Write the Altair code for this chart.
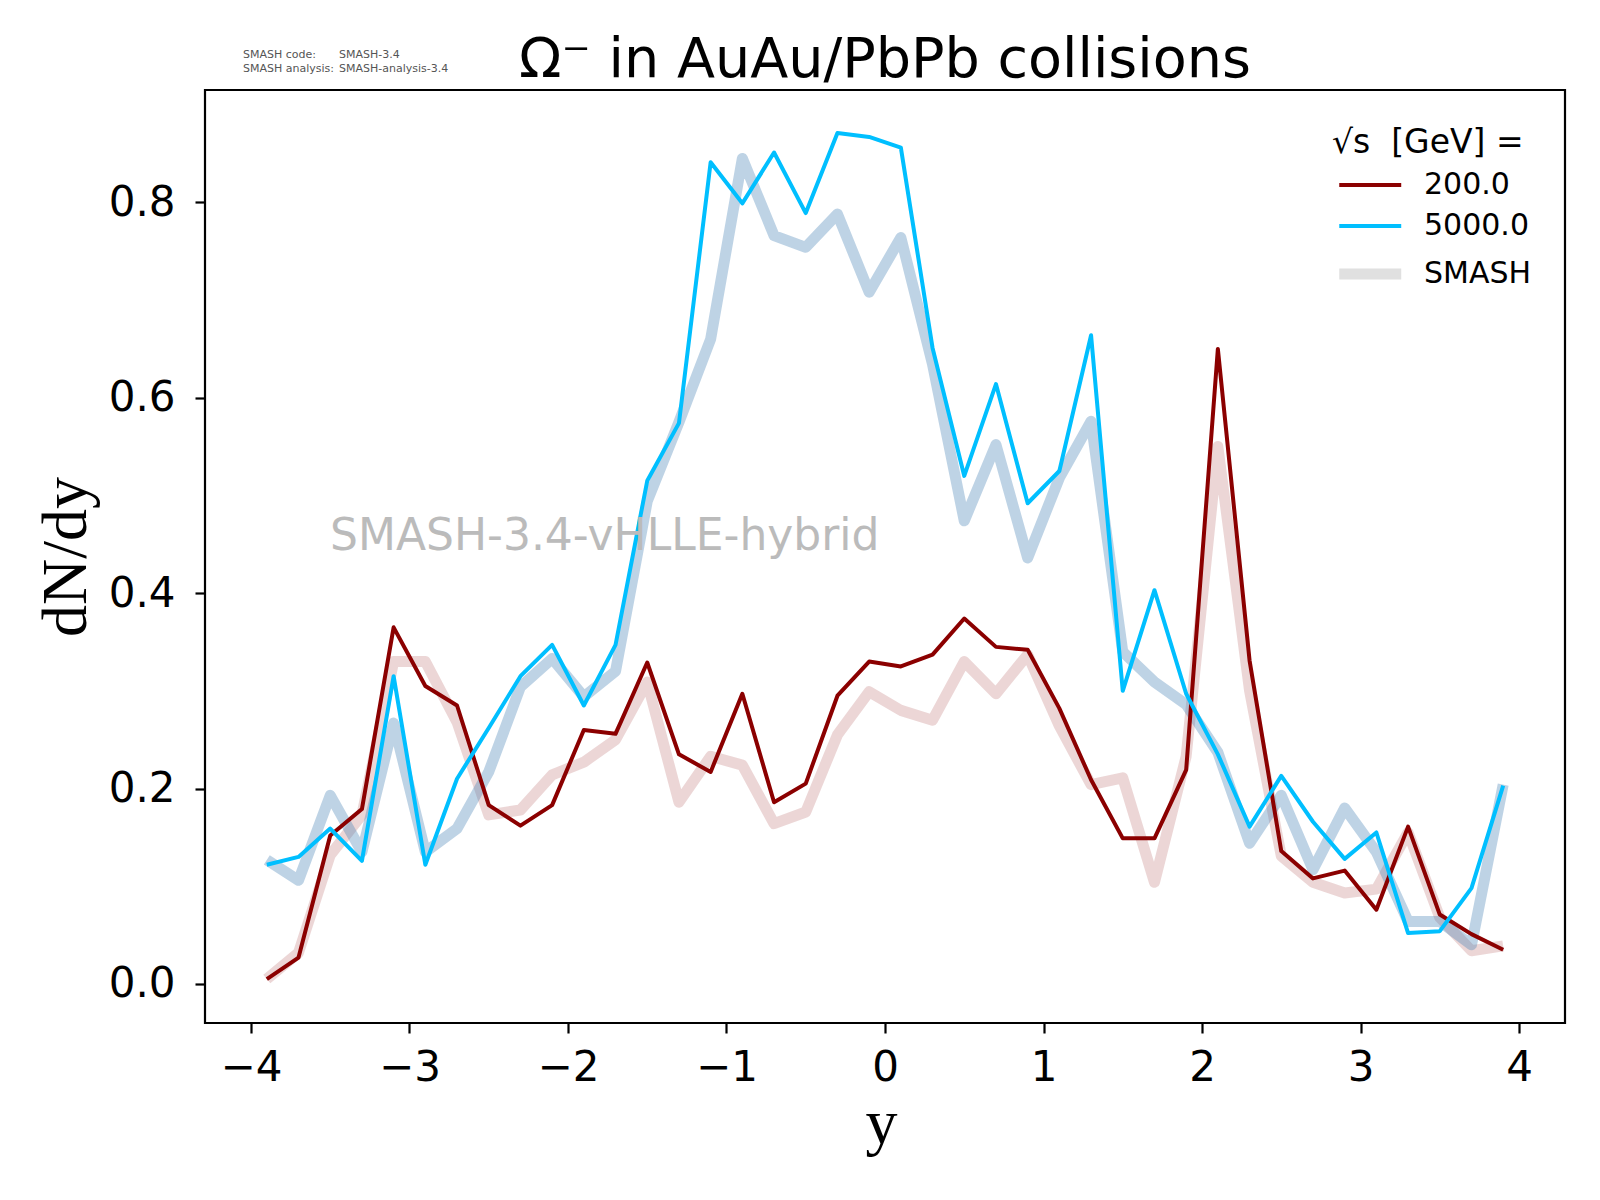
import altair as alt
import pandas as pd

# ---- data ----
rapidity = [-3.9, -3.7, -3.5, -3.3, -3.1, -2.9, -2.7, -2.5, -2.3, -2.1,
            -1.9, -1.7, -1.5, -1.3, -1.1, -0.9, -0.7, -0.5, -0.3, -0.1,
            0.1, 0.3, 0.5, 0.7, 0.9, 1.1, 1.3, 1.5, 1.7, 1.9,
            2.1, 2.3, 2.5, 2.7, 2.9, 3.1, 3.3, 3.5, 3.7, 3.9]

dndy_200 = [0.005, 0.027, 0.152, 0.179, 0.365, 0.305, 0.285, 0.183, 0.162, 0.183,
            0.260, 0.256, 0.329, 0.235, 0.217, 0.297, 0.186, 0.205, 0.295, 0.330,
            0.325, 0.337, 0.374, 0.345, 0.342, 0.282, 0.209, 0.149, 0.149, 0.219,
            0.650, 0.331, 0.136, 0.108, 0.116, 0.076, 0.161, 0.071, 0.051, 0.035]

dndy_5000 = [0.122, 0.130, 0.159, 0.126, 0.315, 0.122, 0.210, 0.262, 0.315, 0.347,
             0.285, 0.347, 0.515, 0.574, 0.841, 0.799, 0.851, 0.789, 0.871, 0.867,
             0.856, 0.651, 0.520, 0.614, 0.492, 0.525, 0.664, 0.300, 0.403, 0.297,
             0.235, 0.161, 0.213, 0.166, 0.128, 0.155, 0.052, 0.054, 0.098, 0.203]

smash_200 = [0.005, 0.032, 0.132, 0.173, 0.330, 0.330, 0.268, 0.173, 0.178, 0.214,
             0.227, 0.250, 0.309, 0.186, 0.233, 0.224, 0.164, 0.176, 0.255, 0.299,
             0.280, 0.270, 0.330, 0.297, 0.337, 0.264, 0.204, 0.211, 0.104, 0.233,
             0.550, 0.300, 0.131, 0.104, 0.093, 0.097, 0.155, 0.068, 0.034, 0.039]

smash_5000 = [0.127, 0.106, 0.193, 0.135, 0.267, 0.135, 0.159, 0.217, 0.304, 0.333,
              0.294, 0.320, 0.494, 0.575, 0.660, 0.845, 0.766, 0.754, 0.788, 0.708,
              0.764, 0.634, 0.474, 0.552, 0.436, 0.518, 0.576, 0.340, 0.309, 0.286,
              0.237, 0.144, 0.193, 0.117, 0.180, 0.135, 0.064, 0.064, 0.040, 0.204]

series_labels = ["200.0", "5000.0", "SMASH"]
series_colors = ["#8b0000", "#00bfff", "#e0e0e0"]
series_widths = [4, 4, 11]
x_ticks = [-4, -3, -2, -1, 0, 1, 2, 3, 4]
y_ticks = [0.0, 0.2, 0.4, 0.6, 0.8]

title_text = "Ω⁻ in AuAu/PbPb collisions"
legend_title = "√s\u00a0\u00a0[GeV] ="
watermark = "SMASH-3.4-vHLLE-hybrid"
info_keys = ["SMASH code:", "SMASH analysis:"]
info_vals = ["SMASH-3.4", "SMASH-analysis-3.4"]

# ---- tables ----
thin_df = pd.concat([
    pd.DataFrame({"rap": rapidity, "dndy": dndy_200, "series": series_labels[0]}),
    pd.DataFrame({"rap": rapidity, "dndy": dndy_5000, "series": series_labels[1]}),
], ignore_index=True)
smash200_df = pd.DataFrame({"rap": rapidity, "dndy": smash_200})
smash5000_df = pd.DataFrame({"rap": rapidity, "dndy": smash_5000})

W, H = 1360, 933

x_enc = alt.X(
    "rap:Q",
    scale=alt.Scale(domain=[-4.29, 4.29], nice=False, zero=False),
    axis=alt.Axis(
        values=x_ticks, format="d", title="y",
        titleFont="Liberation Serif", titleFontSize=64, titleFontWeight="normal",
        titleColor="black", titleX=W / 2 - 4, titleY=119, titleBaseline="alphabetic",
        titleAlign="center",
    ),
)
y_enc = alt.Y(
    "dndy:Q",
    scale=alt.Scale(domain=[-0.04, 0.915], nice=False, zero=False),
    axis=alt.Axis(
        values=y_ticks, format=".1f", title="dN/dy",
        titleFont="Liberation Serif", titleFontSize=64, titleFontWeight="normal",
        titleColor="black", titleAngle=270, titleX=-120, titleY=H / 2,
        titleBaseline="alphabetic", titleAlign="center", labelPadding=20,
    ),
)

legend_def = alt.Legend(
    title=legend_title, orient="none", legendX=1127, legendY=37,
    titleFont="DejaVu Sans", titleFontSize=33, titleFontWeight="normal",
    titleColor="black", titleLimit=500, titlePadding=10,
    labelFont="DejaVu Sans", labelFontSize=30, labelColor="black",
    symbolType="M-1,0H7", symbolSize=240, labelOffset=62,
    rowPadding=11, padding=0,
)

smash_red = alt.Chart(smash200_df).mark_line(
    color="#8b0000", opacity=0.16, strokeWidth=11, strokeJoin="round"
).encode(x=x_enc, y=y_enc)

smash_blue = alt.Chart(smash5000_df).mark_line(
    color="#4682b4", opacity=0.35, strokeWidth=11, strokeJoin="round"
).encode(x=x_enc, y=y_enc)

thin = alt.Chart(thin_df).mark_line(strokeJoin="round").encode(
    x=x_enc, y=y_enc,
    color=alt.Color("series:N",
                    scale=alt.Scale(domain=series_labels, range=series_colors),
                    legend=legend_def),
    strokeWidth=alt.StrokeWidth("series:N",
                                scale=alt.Scale(type="ordinal", domain=series_labels,
                                                range=series_widths),
                                legend=legend_def),
)


def text_layer(txt, px, py, size, color, align="left"):
    return alt.Chart(pd.DataFrame({"t": [txt]})).mark_text(
        align=align, baseline="alphabetic", fontSize=size,
        font="DejaVu Sans", color=color,
    ).encode(text="t:N", x=alt.value(px), y=alt.value(py))


title_layer = text_layer(title_text, W / 2, -13, 55.6, "black", align="center")
wm = text_layer(watermark, 125, 460, 44, "#bbbbbb")
info = [
    text_layer(info_keys[0], 38, -32, 11, "#555555"),
    text_layer(info_vals[0], 134, -32, 11, "#555555"),
    text_layer(info_keys[1], 38, -18, 11, "#555555"),
    text_layer(info_vals[1], 134, -18, 11, "#555555"),
]

chart = alt.layer(smash_red, smash_blue, thin, wm, title_layer, *info).properties(
    width=W, height=H,
    autosize=alt.AutoSizeParams(type="none"),
    padding={"left": 197, "top": 82, "right": 20, "bottom": 150},
).configure_view(
    stroke="black", strokeWidth=2.2,
).configure_axis(
    grid=False, domain=False, labelFont="DejaVu Sans", labelFontSize=42,
    labelColor="black", tickColor="black", tickSize=10, tickWidth=2.2,
    labelPadding=14,
)

chart.save("out.html", embed_options={"renderer": "svg", "actions": False})
